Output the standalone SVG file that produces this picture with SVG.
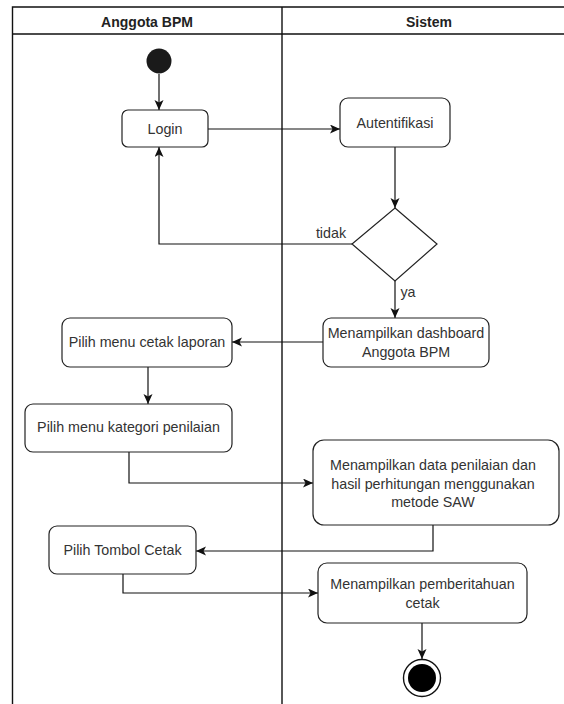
<svg xmlns="http://www.w3.org/2000/svg" width="564" height="704" viewBox="0 0 564 704">
  <style>
    .lane { fill: none; stroke: #111; stroke-width: 1.4; }
    .head { font-family: "Liberation Sans", Arial, sans-serif; font-size: 14px; font-weight: bold; fill: #222; text-anchor: middle; }
    .act { fill: #fff; stroke: #222; stroke-width: 1.2; }
    .lbl { font-family: "Liberation Sans", Arial, sans-serif; font-size: 14.3px; fill: #333; text-anchor: middle; }
    .edge { fill: none; stroke: #111; stroke-width: 1.2; marker-end: url(#arrow); }
  </style>
  <defs>
    <marker id="arrow" markerUnits="userSpaceOnUse" markerWidth="12" markerHeight="10" refX="10" refY="4.5" orient="auto">
      <path d="M0,0 L10,4.5 L0,9 L2.5,4.5 Z" fill="#111"/>
    </marker>
  </defs>

  <rect width="564" height="704" fill="#fff"/>

  <!-- swimlane frame -->
  <g id="lanes">
    <path class="lane" d="M12.5,704 V7 H564 M12.5,34 H564 M282,7 V704"/>
    <text class="head" x="147" y="26.5">Anggota BPM</text>
    <text class="head" x="429" y="26.5">Sistem</text>
  </g>

  <!-- connectors -->
  <g id="connectors">
    <path class="edge" d="M159,74 V110"/>
    <path class="edge" d="M208,129 H340"/>
    <path class="edge" d="M395,147 V208"/>
    <path class="edge" d="M352,244 H159 V147"/>
    <path class="edge" d="M395,281 V318"/>
    <path class="edge" d="M323,342 H232"/>
    <path class="edge" d="M148,367 V404"/>
    <path class="edge" d="M129,452 V483 H313"/>
    <path class="edge" d="M433,525 V551 H196"/>
    <path class="edge" d="M123,574 V593 H318"/>
    <path class="edge" d="M422,623 V659"/>
    <text class="lbl" x="331" y="237.5">tidak</text>
    <text class="lbl" x="408" y="297" style="text-anchor:middle">ya</text>
  </g>

  <g id="start">
    <circle cx="159" cy="61" r="12.5" fill="#1a1a1a"/>
  </g>

  <g id="login">
    <rect class="act" x="122" y="110" width="86" height="37" rx="6"/>
    <text class="lbl" x="165" y="133.5">Login</text>
  </g>

  <g id="autentifikasi">
    <rect class="act" x="340" y="98" width="110" height="49" rx="8"/>
    <text class="lbl" x="395" y="127.5">Autentifikasi</text>
  </g>

  <g id="decision">
    <path class="act" d="M395,208 L437,244 L395,281 L352,244 Z"/>
  </g>

  <g id="dashboard">
    <rect class="act" x="323" y="318" width="166" height="49" rx="8"/>
    <text class="lbl" x="406" y="338">Menampilkan dashboard</text>
    <text class="lbl" x="406" y="356.5">Anggota BPM</text>
  </g>

  <g id="cetak-laporan">
    <rect class="act" x="62" y="318" width="170" height="49" rx="8"/>
    <text class="lbl" x="147" y="347">Pilih menu cetak laporan</text>
  </g>

  <g id="kategori-penilaian">
    <rect class="act" x="25" y="404" width="207" height="48" rx="8"/>
    <text class="lbl" x="128.5" y="432">Pilih menu kategori penilaian</text>
  </g>

  <g id="data-penilaian">
    <rect class="act" x="313" y="440" width="246" height="85" rx="11"/>
    <text class="lbl" x="433" y="470">Menampilkan data penilaian dan</text>
    <text class="lbl" x="433" y="488.5">hasil perhitungan menggunakan</text>
    <text class="lbl" x="433" y="507">metode SAW</text>
  </g>

  <g id="tombol-cetak">
    <rect class="act" x="49" y="526" width="147" height="48" rx="8"/>
    <text class="lbl" x="122.5" y="555">Pilih Tombol Cetak</text>
  </g>

  <g id="pemberitahuan">
    <rect class="act" x="318" y="563" width="209" height="60" rx="9"/>
    <text class="lbl" x="422.5" y="589">Menampilkan pemberitahuan</text>
    <text class="lbl" x="422.5" y="607.5">cetak</text>
  </g>

  <g id="end">
    <circle cx="422" cy="678" r="18.5" fill="#fff" stroke="#111" stroke-width="1.4"/>
    <circle cx="422" cy="678" r="14" fill="#000"/>
  </g>
</svg>
